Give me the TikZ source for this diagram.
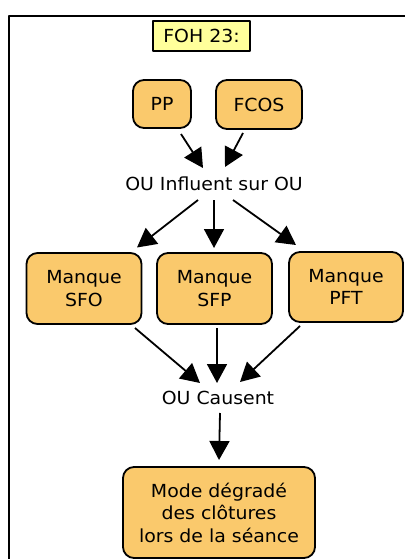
\documentclass[tikz,border=0pt]{standalone}
\usepackage{fontspec}
\setmainfont{DejaVu Sans}[FakeStretch=1.05]
\usetikzlibrary{arrows.meta,calc}
\definecolor{boxorange}{RGB}{250,201,108}
\definecolor{titleyellow}{RGB}{255,255,155}
\begin{document}
\begin{tikzpicture}[x=1pt, y=-1pt, line join=round, font=\fontsize{18}{22.5}\selectfont,
	>={Triangle[length=19pt,width=20pt]},
	block/.style={draw, line width=1.8pt, rounded corners=11pt, fill=boxorange, text=black, align=center, inner sep=0pt},
	titlebox/.style={draw, line width=1.8pt, fill=titleyellow, text=black, inner sep=0pt, minimum width=97pt, minimum height=30pt},
	plain/.style={text=black, inner sep=0pt},
	link/.style={->, line width=1.8pt}]
	% Cadre de la page
	\useasboundingbox (0,0) rectangle (404,559);
	\fill[white] (0,0) rectangle (404,559);
	\draw[line width=2pt] (8.5,600) -- (8.5,16) -- (430,16);
	
	% Titre
	\node[titlebox] (foh) at (201.5,36) {FOH 23:};
	
	% Les causes
	\node[block, minimum width=58pt, minimum height=48pt] (pp) at (162,104) {PP};
	\node[block, minimum width=86pt, minimum height=49pt] (fcos) at (259,104.5) {FCOS};
	\node[plain] (ou1) at (214,184) {OU Influent sur OU};
	
	% Les manques
	\node[block, minimum width=115pt, minimum height=71pt] (sfo) at (84,288.5) {Manque\\SFO};
	\node[block, minimum width=115pt, minimum height=71pt] (sfp) at (214.5,288.5) {Manque\\SFP};
	\node[block, minimum width=114pt, minimum height=70pt] (pft) at (346,287) {Manque\\PFT};
	\node[plain] (ou2) at (218,398) {OU Causent};
	
	% La consequence
	\node[block, minimum width=192pt, minimum height=91pt] (mode) at (219,512.5) {Mode dégradé\\des clôtures\\lors de la séance};
	
	% Fleches
	\foreach \a/\da/\b/\db in {pp/{19,30}/ou1/{-11,-16}, fcos/{-16,28.5}/ou1/{11,-17},
		ou1/{-16,16}/sfo/{53,-41}, ou1/{0,16}/sfp/{-0.5,-40.5}, ou1/{19,16}/pft/{-50,-42},
		sfo/{51,39.5}/ou2/{-18,-15}, sfp/{2.5,39.5}/ou2/{-1,-15}, pft/{-46,39}/ou2/{22,-16},
		ou2/{2,15}/mode/{0,-52.5}}
	\draw[link] ($(\a)+(\da)$) -- ($(\b)+(\db)$);
\end{tikzpicture}
\end{document}
